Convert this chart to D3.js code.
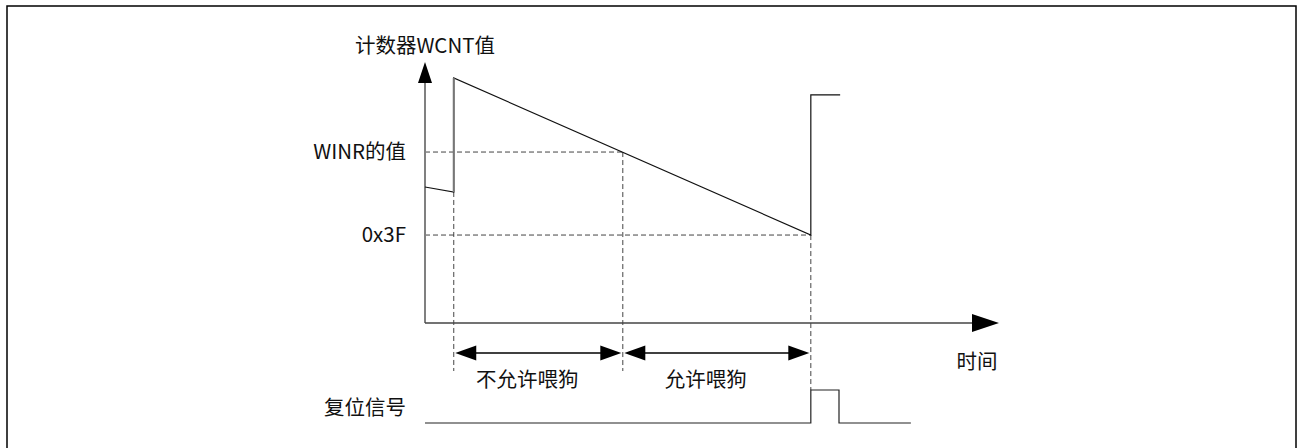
<!DOCTYPE html>
<html>
<head>
<meta charset="utf-8">
<script src="https://cdn.jsdelivr.net/npm/d3@7"></script>
<style>
  html, body { margin: 0; padding: 0; background: #fff; }
  svg { display: block; }
  text { font-family: "Noto Sans CJK SC", "Noto Sans", sans-serif; fill: #111; }
</style>
</head>
<body>
<svg id="chart" width="1301" height="448"></svg>
<script>
// ---- data ----
const axisTitleY = "计数器WCNT值";
const axisTitleX = "时间";
const resetLabel = "复位信号";

// counter WCNT trace (time units, value units)
const counterT = [0, 5, 5, 67.1, 67.1, 72.2];
const counterV = [52.1, 50.2, 93.9, 33.7, 87.4, 87.4];

// reference levels on the y axis
const levelLabels = ["WINR的值", "0x3F"];
const levelValues = [65.5, 33.7];
const levelEndT = [34.4, 67.1];

// feeding windows
const windowLabels = ["不允许喂狗", "允许喂狗"];
const windowStart = [5, 34.4];
const windowEnd = [34.4, 67.1];

// event marker times and the counter value where each dashed line begins
const markerT = [5, 34.4, 67.1];
const markerV = [50.2, 65.5, 33.7];

// reset signal trace
const resetT = [0, 67.1, 67.1, 72, 72, 84.5];
const resetV = [0, 0, 1, 1, 0, 0];

// ---- scales ----
const svg = d3.select("#chart");
const x = d3.scaleLinear().domain([0, 100]).range([425, 1000]);
const y = d3.scaleLinear().domain([0, 100]).range([323, 62]);
const yr = d3.scaleLinear().domain([0, 1]).range([423, 390]);

const windowY = 353;
const windowBottom = 371;
const FS = "20.5px";

// outer frame
svg.append("rect").attr("x", 7).attr("y", 6).attr("width", 1289).attr("height", 460)
  .attr("fill", "none").attr("stroke", "#000").attr("stroke-width", 1.5);

// dashed horizontal level lines
levelValues.forEach((v, i) => {
  svg.append("line")
    .attr("x1", x(0)).attr("x2", x(levelEndT[i]))
    .attr("y1", y(v)).attr("y2", y(v))
    .attr("stroke", "#444").attr("stroke-width", 1).attr("stroke-dasharray", "5,3");
});

// dashed vertical markers
markerT.forEach((t, i) => {
  const bottom = i === 2 ? yr(1) : windowBottom;
  svg.append("line")
    .attr("x1", x(t)).attr("x2", x(t))
    .attr("y1", y(markerV[i])).attr("y2", bottom)
    .attr("stroke", "#444").attr("stroke-width", 1).attr("stroke-dasharray", "5,3");
});

// y axis with level tick labels
const yAxis = d3.axisLeft(y).tickValues(levelValues)
  .tickFormat((d, i) => levelLabels[i]).tickSize(0).tickPadding(19);
const gy = svg.append("g").attr("transform", `translate(${x(0)},0)`).call(yAxis);
gy.select(".domain").remove();
gy.selectAll("text").style("font-size", FS).attr("fill", "#111")
  .style("font-family", '"Noto Sans CJK SC", sans-serif');

// axis lines
svg.append("line").attr("x1", x(0)).attr("x2", x(0)).attr("y1", y(0)).attr("y2", y(100) + 18)
  .attr("stroke", "#808080").attr("stroke-width", 2);
svg.append("path")
  .attr("d", `M${x(0)},${y(100)} L${x(0) - 7},${y(100) + 21} L${x(0) + 7},${y(100) + 21} Z`)
  .attr("fill", "#000");
svg.append("line").attr("x1", x(0)).attr("x2", x(100) - 26).attr("y1", y(0)).attr("y2", y(0))
  .attr("stroke", "#444").attr("stroke-width", 1.5);
svg.append("path")
  .attr("d", `M${x(100) - 1},${y(0)} L${x(100) - 28},${y(0) - 9} L${x(100) - 28},${y(0) + 9} Z`)
  .attr("fill", "#000");

// counter trace
const lineC = d3.line().x(d => x(d[0])).y(d => y(d[1]));
svg.append("path").datum(counterT.map((t, i) => [t, counterV[i]]))
  .attr("d", lineC).attr("fill", "none").attr("stroke", "#111").attr("stroke-width", 1.2);
svg.append("line").attr("x1", x(counterT[1])).attr("x2", x(counterT[2]))
  .attr("y1", y(counterV[1])).attr("y2", y(counterV[2]))
  .attr("stroke", "#777").attr("stroke-width", 2);

// reset signal trace
const lineR = d3.line().x(d => x(d[0])).y(d => yr(d[1]));
svg.append("path").datum(resetT.map((t, i) => [t, resetV[i]]))
  .attr("d", lineR).attr("fill", "none").attr("stroke", "#222").attr("stroke-width", 1.2);

// window double arrows
function arrowHead(tipX, dir) {
  const L = 21, H = 7.5;
  return `M${tipX},${windowY} L${tipX + dir * L},${windowY - H} L${tipX + dir * L},${windowY + H} Z`;
}
windowLabels.forEach((lab, i) => {
  const x1 = x(windowStart[i]) + 1.5, x2 = x(windowEnd[i]) - 1.5;
  svg.append("line").attr("x1", x1 + 15).attr("x2", x2 - 15).attr("y1", windowY).attr("y2", windowY)
    .attr("stroke", "#000").attr("stroke-width", 1.3);
  svg.append("path").attr("d", arrowHead(x1, 1)).attr("fill", "#000");
  svg.append("path").attr("d", arrowHead(x2, -1)).attr("fill", "#000");
  svg.append("text").attr("x", (x1 + x2) / 2 - 11).attr("y", 378)
    .attr("text-anchor", "middle").attr("dominant-baseline", "central")
    .style("font-size", FS).text(lab);
});

// titles
svg.append("text").attr("x", x(0)).attr("y", 44).attr("text-anchor", "middle")
  .attr("dominant-baseline", "central").style("font-size", FS).text(axisTitleY);
svg.append("text").attr("x", 977).attr("y", 360).attr("text-anchor", "middle")
  .attr("dominant-baseline", "central").style("font-size", FS).text(axisTitleX);
svg.append("text").attr("x", 406).attr("y", 406).attr("text-anchor", "end")
  .attr("dominant-baseline", "central").style("font-size", FS).text(resetLabel);
</script>
</body>
</html>
